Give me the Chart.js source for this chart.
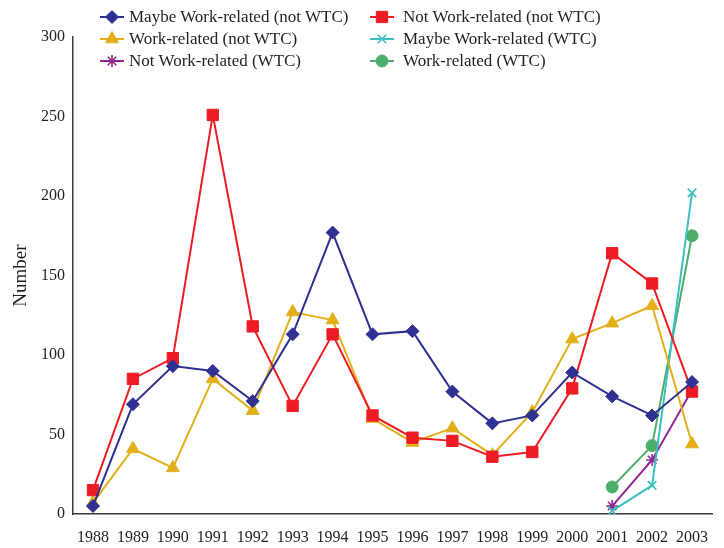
<!DOCTYPE html>
<html>
<head>
<meta charset="utf-8">
<script src="https://cdn.jsdelivr.net/npm/chart.js@4"></script>
<style>
  html,body{margin:0;padding:0;background:#fff;}
  #wrap{position:relative;width:724px;height:548px;}
  #legend{position:absolute;left:0;top:0;width:724px;height:75px;font-family:"Liberation Serif","Times New Roman",serif;font-size:17px;color:#231f20;}
  .item{position:absolute;display:flex;align-items:center;height:22px;white-space:nowrap;}
</style>
</head>
<body>
<div id="wrap">
  <canvas id="chart" width="724" height="548"></canvas>
  <div id="legend"></div>
</div>
<script>
// ── Data ───────────────────────────────────────────────────────────────────
const years = ['1988','1989','1990','1991','1992','1993','1994','1995','1996','1997','1998','1999','2000','2001','2002','2003'];
const maybeNotWTC = [5,69,93,90,71,113,177,113,115,77,57,62,89,74,62,83];
const notNotWTC   = [15,85,98,251,118,68,113,62,48,46,36,39,79,164,145,77];
const workNotWTC  = [7,41,29,85,65,127,122,60,45,54,37,64,110,120,131,44];
const maybeWTC    = [null,null,null,null,null,null,null,null,null,null,null,null,null,2,18,202];
const notWTC      = [null,null,null,null,null,null,null,null,null,null,null,null,null,5,34,78];
const workWTC     = [null,null,null,null,null,null,null,null,null,null,null,null,null,17,43,175];
const yTicks = [0,50,100,150,200,250,300];

const FONT = '"Liberation Serif","Times New Roman",serif';
const AXIS = '#3a3a3a';

const series = [
  { label:'Maybe Work-related (not WTC)', data:maybeNotWTC, color:'#2E3192', style:'rectRot', r:6.5, col:0, row:0 },
  { label:'Not Work-related (not WTC)',   data:notNotWTC,   color:'#ED1C24', style:'rect',    r:8,   col:1, row:0 },
  { label:'Work-related (not WTC)',       data:workNotWTC,  color:'#E3B01C', style:'triangle',r:7.5, col:0, row:1 },
  { label:'Maybe Work-related (WTC)',     data:maybeWTC,    color:'#3CBFC0', style:'crossRot',r:6,   col:1, row:1 },
  { label:'Not Work-related (WTC)',       data:notWTC,      color:'#92278F', style:'star',    r:6,   col:0, row:2 },
  { label:'Work-related (WTC)',           data:workWTC,     color:'#4DAE6C', style:'circle',  r:6,   col:1, row:2 },
];

const datasets = series.map(s => ({
  label:s.label, data:s.data,
  borderColor:s.color, backgroundColor:s.color,
  borderWidth:2, tension:0, spanGaps:false,
  pointStyle:s.style, pointRadius:s.r, pointHoverRadius:s.r,
  pointBorderColor:s.color, pointBackgroundColor:s.color, pointBorderWidth:(s.style==='crossRot'||s.style==='star')?1.6:1,
}));

new Chart(document.getElementById('chart'), {
  type:'line',
  data:{ labels:years, datasets },
  options:{
    responsive:false, animation:false,
    layout:{ padding:{ top:37, right:12, left:0, bottom:0 } },
    plugins:{ legend:{display:false}, tooltip:{enabled:false} },
    scales:{
      x:{
        offset:true,
        grid:{ display:false, drawTicks:false },
        border:{ color:AXIS, width:1.5 },
        ticks:{ font:{family:FONT,size:16}, color:'#231f20', padding:14, maxRotation:0, autoSkip:false },
        afterFit:s=>{ s.height = 34; },
      },
      y:{
        min:0, max:300,
        afterBuildTicks:s=>{ s.ticks = yTicks.map(v=>({value:v})); },
        grid:{ display:false, drawTicks:false },
        border:{ color:AXIS, width:1.5 },
        ticks:{ font:{family:FONT,size:16}, color:'#231f20', padding:8 },
        title:{ display:true, text:'Number', font:{family:FONT,size:19}, color:'#231f20', padding:{top:10,bottom:0} },
        afterFit:s=>{ s.width = 73; },
      },
    },
  },
});

// ── Legend (line + marker icons drawn with Chart.js helpers) ───────────────
const legend = document.getElementById('legend');
const colX = [100, 370], rowY = [6, 28, 50], gap = [5, 9];
series.forEach(s => {
  const item = document.createElement('div');
  item.className = 'item';
  item.style.left = colX[s.col]+'px';
  item.style.top = rowY[s.row]+'px';
  const c = document.createElement('canvas');
  c.width = 24; c.height = 18;
  c.style.marginRight = gap[s.col]+'px';
  const ctx = c.getContext('2d');
  ctx.strokeStyle = s.color; ctx.lineWidth = 2;
  ctx.beginPath(); ctx.moveTo(0,9); ctx.lineTo(24,9); ctx.stroke();
  ctx.fillStyle = s.color; ctx.strokeStyle = s.color;
  ctx.lineWidth = (s.style==='crossRot'||s.style==='star')?1.6:1;
  Chart.helpers.drawPoint(ctx, { pointStyle:s.style, radius:s.r, rotation:0, borderWidth:ctx.lineWidth }, 12, 9);
  item.appendChild(c);
  const t = document.createElement('span');
  t.textContent = s.label;
  item.appendChild(t);
  legend.appendChild(item);
});
</script>
</body>
</html>
